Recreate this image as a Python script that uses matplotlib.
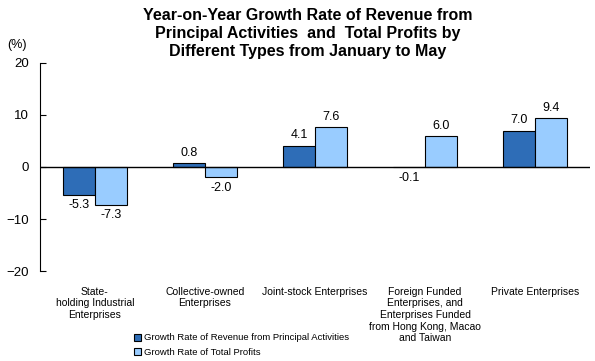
import matplotlib.pyplot as plt
import numpy as np

plt.rcParams['font.family'] = ['Liberation Sans', 'DejaVu Sans']

categories = ['State-\nholding Industrial\nEnterprises',
              'Collective-owned\nEnterprises',
              'Joint-stock Enterprises',
              'Foreign Funded\nEnterprises, and\nEnterprises Funded\nfrom Hong Kong, Macao\nand Taiwan',
              'Private Enterprises']
revenue = [-5.3, 0.8, 4.1, -0.1, 7.0]
profits = [-7.3, -2.0, 7.6, 6.0, 9.4]

fig = plt.figure(figsize=(5.95, 3.61), dpi=100)
ax = fig.add_axes([0.067, 0.249, 0.925, 0.577])

x = np.arange(len(categories))
w = 0.29
b1 = ax.bar(x - w / 2, revenue, w, color='#2E6DB7', edgecolor='black', linewidth=0.8,
            label='Growth Rate of Revenue from Principal Activities')
b2 = ax.bar(x + w / 2, profits, w, color='#99CCFF', edgecolor='black', linewidth=0.8,
            label='Growth Rate of Total Profits')

for bars, vals in [(b1, revenue), (b2, profits)]:
    for bar, v in zip(bars, vals):
        cx = bar.get_x() + bar.get_width() / 2
        if v >= 0:
            ax.text(cx, v + 0.8, '%.1f' % v, ha='center', va='bottom', fontsize=9)
        else:
            ax.text(cx, v - 0.8, '%.1f' % v, ha='center', va='top', fontsize=9)

ax.axhline(0, color='black', linewidth=1)
ax.set_xlim(-0.5, 4.5)
ax.set_ylim(-20, 20)
ax.set_yticks([-20, -10, 0, 10, 20])
ax.tick_params(axis='y', direction='in', length=4, labelsize=9.5, pad=8)
ax.set_xticks([])
for s in ['top', 'right', 'bottom']:
    ax.spines[s].set_visible(False)

for i, c in enumerate(categories):
    ax.text(i, -23.0, c, ha='center', va='top', fontsize=7.5, linespacing=1.2)

fig.text(0.013, 0.875, '(%)', ha='left', va='center', fontsize=9)

fig.text(0.517, 0.978, 'Year-on-Year Growth Rate of Revenue from\nPrincipal Activities  and  Total Profits by\nDifferent Types from January to May',
         ha='center', va='top', fontsize=11.5, fontweight='bold', linespacing=1.25)

fig.legend(handles=[b1, b2], loc='lower left', bbox_to_anchor=(0.215, -0.005), frameon=False,
           fontsize=6.8, handlelength=0.8, handleheight=0.8, handletextpad=0.3,
           labelspacing=0.6, borderaxespad=0.2)

fig.savefig('out.png', dpi=100)
